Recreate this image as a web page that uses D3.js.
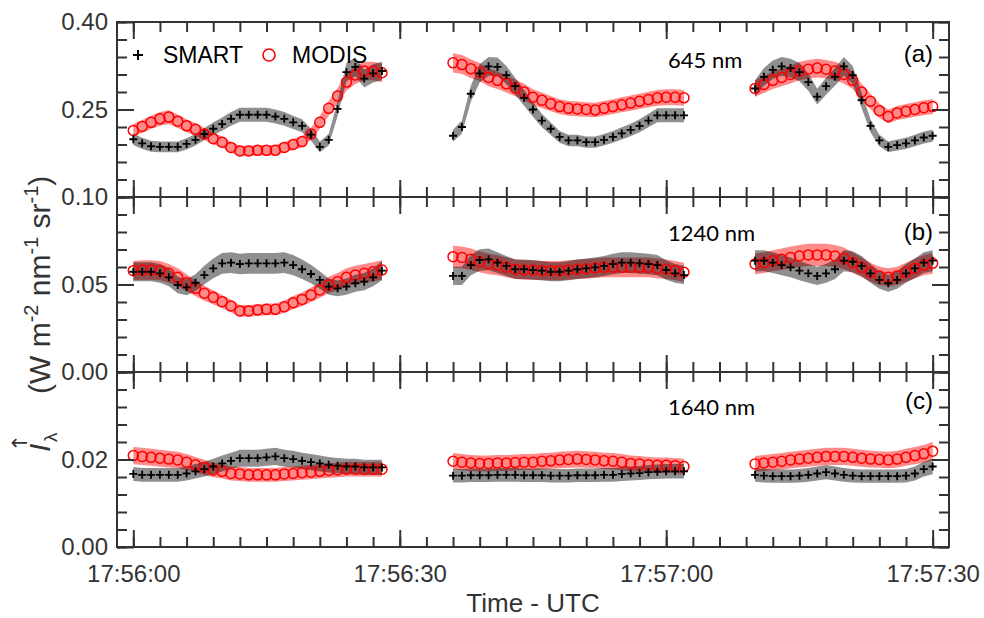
<!DOCTYPE html>
<html>
<head>
<meta charset="utf-8">
<script src="https://cdn.jsdelivr.net/npm/d3@7"></script>
<style>
  body { margin: 0; background: #fff; }
</style>
</head>
<body>
<div id="chart"></div>
<script>
// start of each flight segment, seconds after 17:56:00 UTC (1 Hz samples)
const segStart = [0, 36, 70]

const smart645 = [
  [0.199,0.192,0.187,0.186,0.186,0.186,0.191,0.198,0.208,0.217,0.225,0.234,0.241,0.241,0.241,0.241,0.238,0.234,0.228,0.222,0.207,0.186,0.198,0.251,0.314,0.323,0.303,0.312,0.316],
  [0.205,0.220,0.277,0.312,0.324,0.323,0.309,0.290,0.270,0.250,0.231,0.217,0.203,0.197,0.197,0.194,0.194,0.198,0.203,0.209,0.215,0.222,0.231,0.240,0.240,0.240,0.240],
  [0.286,0.306,0.318,0.324,0.321,0.314,0.297,0.272,0.290,0.306,0.324,0.309,0.266,0.222,0.197,0.186,0.189,0.192,0.197,0.202,0.205]
]
const modis645 = [
  [0.214,0.221,0.228,0.234,0.237,0.230,0.222,0.216,0.208,0.200,0.194,0.185,0.179,0.179,0.180,0.180,0.180,0.185,0.190,0.195,0.208,0.228,0.252,0.273,0.297,0.309,0.316,0.316,0.313],
  [0.330,0.327,0.320,0.314,0.305,0.300,0.294,0.287,0.280,0.271,0.266,0.260,0.255,0.252,0.251,0.250,0.249,0.252,0.255,0.258,0.261,0.264,0.267,0.270,0.271,0.271,0.270],
  [0.286,0.293,0.300,0.305,0.310,0.316,0.319,0.321,0.319,0.316,0.310,0.300,0.280,0.264,0.248,0.238,0.244,0.247,0.250,0.253,0.255]
]
const smart1240 = [
  [0.0573,0.0573,0.0573,0.0564,0.0541,0.0497,0.0484,0.0510,0.0554,0.0592,0.0621,0.0625,0.0617,0.0621,0.0621,0.0621,0.0621,0.0625,0.0611,0.0587,0.0560,0.0526,0.0488,0.0478,0.0488,0.0507,0.0516,0.0541,0.0579],
  [0.0549,0.0549,0.0611,0.0640,0.0644,0.0625,0.0606,0.0587,0.0587,0.0583,0.0579,0.0573,0.0573,0.0579,0.0587,0.0592,0.0598,0.0606,0.0617,0.0625,0.0625,0.0621,0.0617,0.0611,0.0583,0.0564,0.0554],
  [0.0636,0.0636,0.0625,0.0611,0.0598,0.0579,0.0564,0.0549,0.0564,0.0587,0.0636,0.0630,0.0606,0.0564,0.0526,0.0507,0.0526,0.0564,0.0592,0.0625,0.0636]
]
const modis1240 = [
  [0.0579,0.0583,0.0583,0.0579,0.0564,0.0541,0.0510,0.0478,0.0450,0.0427,0.0402,0.0377,0.0349,0.0349,0.0354,0.0358,0.0358,0.0373,0.0396,0.0415,0.0440,0.0469,0.0497,0.0516,0.0541,0.0554,0.0564,0.0573,0.0583],
  [0.0659,0.0655,0.0644,0.0630,0.0617,0.0611,0.0598,0.0587,0.0583,0.0583,0.0579,0.0579,0.0579,0.0583,0.0587,0.0590,0.0594,0.0598,0.0598,0.0598,0.0598,0.0598,0.0598,0.0592,0.0587,0.0579,0.0570],
  [0.0617,0.0625,0.0636,0.0644,0.0655,0.0663,0.0669,0.0669,0.0669,0.0663,0.0650,0.0625,0.0598,0.0570,0.0549,0.0541,0.0549,0.0570,0.0592,0.0611,0.0621]
]
const smart1640 = [
  [0.0167,0.0165,0.0165,0.0165,0.0165,0.0165,0.0168,0.0173,0.0178,0.0184,0.0191,0.0197,0.0203,0.0203,0.0203,0.0205,0.0207,0.0203,0.0201,0.0197,0.0194,0.0191,0.0188,0.0186,0.0184,0.0184,0.0182,0.0182,0.0182],
  [0.0163,0.0163,0.0164,0.0164,0.0164,0.0165,0.0165,0.0165,0.0164,0.0164,0.0164,0.0163,0.0163,0.0163,0.0164,0.0164,0.0164,0.0165,0.0165,0.0167,0.0168,0.0169,0.0171,0.0172,0.0173,0.0173,0.0173],
  [0.0165,0.0163,0.0162,0.0162,0.0162,0.0163,0.0165,0.0168,0.0171,0.0168,0.0165,0.0163,0.0162,0.0162,0.0162,0.0162,0.0162,0.0163,0.0168,0.0178,0.0184]
]
const modis1640 = [
  [0.0209,0.0207,0.0205,0.0203,0.0201,0.0199,0.0194,0.0188,0.0182,0.0176,0.0173,0.0168,0.0167,0.0165,0.0165,0.0165,0.0165,0.0167,0.0168,0.0170,0.0171,0.0173,0.0175,0.0176,0.0178,0.0178,0.0178,0.0178,0.0178],
  [0.0196,0.0194,0.0192,0.0191,0.0191,0.0192,0.0192,0.0193,0.0194,0.0194,0.0196,0.0197,0.0199,0.0200,0.0201,0.0200,0.0199,0.0197,0.0196,0.0194,0.0191,0.0190,0.0188,0.0187,0.0187,0.0186,0.0184],
  [0.0190,0.0192,0.0194,0.0196,0.0199,0.0201,0.0203,0.0205,0.0207,0.0207,0.0207,0.0205,0.0203,0.0201,0.0200,0.0199,0.0201,0.0205,0.0209,0.0213,0.0219]
]

// relative uncertainty of the shaded envelopes, per panel
const uncertainty = [0.05, 0.095, 0.095]

const wavelengths = ["645 nm", "1240 nm", "1640 nm"]
const panelTags = ["(a)", "(b)", "(c)"]
const yDomains = [[0.10, 0.40], [0.00, 0.10], [0.00, 0.04]]
const yMinorTicks = [
  [0.10,0.13,0.16,0.19,0.22,0.25,0.28,0.31,0.34,0.37,0.40],
  [0.00,0.01,0.02,0.03,0.04,0.05,0.06,0.07,0.08,0.09,0.10],
  [0.000,0.004,0.008,0.012,0.016,0.020,0.024,0.028,0.032,0.036,0.040]
]
const yMajorTicks = [[0.10, 0.25, 0.40], [0.00, 0.05, 0.10], [0.00, 0.02, 0.04]]
const yTickLabels = [["0.10", "0.25", "0.40"], ["0.00", "0.05"], ["0.00", "0.02"]]

const width = 984, height = 618
const plot = {left: 117, right: 949, top: 22, panelH: 175}
const minorLen = 10, majorLen = 17
const axisColor = "#333"
const sans = "'Liberation Sans', Arial, sans-serif"

const t0 = Date.UTC(2000, 0, 1, 17, 56, 0)
const toDate = s => new Date(t0 + s * 1000)

const x = d3.scaleUtc()
    .domain([toDate(-1.835), toDate(91.84)])
    .range([plot.left, plot.right])

const xMinor = d3.utcSecond.every(3).range(toDate(0), toDate(91))
const xMajor = d3.utcSecond.every(30).range(toDate(0), toDate(91))
const timeFmt = d3.utcFormat("%H:%M:%S")

const svg = d3.select("#chart").append("svg")
    .attr("width", width)
    .attr("height", height)
    .attr("font-family", sans)

const series = [
  {smart: smart645, modis: modis645},
  {smart: smart1240, modis: modis1240},
  {smart: smart1640, modis: modis1640}
]

function toPoints(segs) {
  return segs.map((vals, s) => vals.map((v, i) => ({t: toDate(segStart[s] + i), v: v})))
}

function styleAxis(g) {
  g.select(".domain").remove()
  g.selectAll(".tick line").attr("stroke", axisColor).attr("stroke-width", 2)
  g.selectAll(".tick text").attr("fill", axisColor).attr("font-size", 24)
    .attr("font-family", sans)
}

series.forEach((p, k) => {
  const y0 = plot.top + k * plot.panelH,
      y1 = y0 + plot.panelH
  const y = d3.scaleLinear().domain(yDomains[k]).range([y1, y0])
  const g = svg.append("g").attr("class", "panel")
  const unc = uncertainty[k]

  const band = d3.area()
      .x(d => x(d.t))
      .y0(d => y(d.v * (1 - unc)))
      .y1(d => y(d.v * (1 + unc)))

  const modisPts = toPoints(p.modis),
      smartPts = toPoints(p.smart)

  // envelopes: red under, grey over
  g.selectAll(".band-modis")
      .data(modisPts)
      .join("path")
      .attr("class", "band-modis")
      .attr("d", band)
      .attr("fill", "rgba(255,0,0,0.46)")
  g.selectAll(".band-smart")
      .data(smartPts)
      .join("path")
      .attr("class", "band-smart")
      .attr("d", band)
      .attr("fill", "rgba(0,0,0,0.44)")

  // MODIS circles
  g.selectAll(".modis")
      .data(modisPts.flat())
      .join("circle")
      .attr("class", "modis")
      .attr("cx", d => x(d.t))
      .attr("cy", d => y(d.v))
      .attr("r", 5)
      .attr("fill", "none")
      .attr("stroke", "#ff0000")
      .attr("stroke-width", 1.5)

  // SMART pluses
  g.selectAll(".smart")
      .data(smartPts.flat())
      .join("path")
      .attr("class", "smart")
      .attr("transform", d => `translate(${x(d.t)},${y(d.v)})`)
      .attr("d", "M-4,0H4M0,-4V4")
      .attr("stroke", "#000")
      .attr("stroke-width", 1.8)

  // x ticks, top and bottom of the panel, pointing inward
  g.append("g").attr("transform", `translate(0,${y0})`)
      .call(d3.axisTop(x).tickValues(xMinor).tickSize(-minorLen).tickSizeOuter(0).tickFormat(""))
      .call(styleAxis)
  g.append("g").attr("transform", `translate(0,${y0})`)
      .call(d3.axisTop(x).tickValues(xMajor).tickSize(-majorLen).tickSizeOuter(0).tickFormat(""))
      .call(styleAxis)
  g.append("g").attr("transform", `translate(0,${y1})`)
      .call(d3.axisBottom(x).tickValues(xMinor).tickSize(-minorLen).tickSizeOuter(0).tickFormat(""))
      .call(styleAxis)
  g.append("g").attr("transform", `translate(0,${y1})`)
      .call(d3.axisBottom(x).tickValues(xMajor).tickSize(-majorLen).tickSizeOuter(0)
          .tickPadding(18)
          .tickFormat(k === 2 ? timeFmt : ""))
      .call(styleAxis)

  // y ticks, left and right
  const labels = yTickLabels[k]
  g.append("g").attr("transform", `translate(${plot.left},0)`)
      .call(d3.axisLeft(y).tickValues(yMinorTicks[k]).tickSize(-minorLen).tickSizeOuter(0).tickFormat(""))
      .call(styleAxis)
  g.append("g").attr("transform", `translate(${plot.left},0)`)
      .call(d3.axisLeft(y).tickValues(yMajorTicks[k]).tickSize(-majorLen).tickSizeOuter(0)
          .tickPadding(9)
          .tickFormat(d => {
            const s = d3.format(".2f")(d)
            return labels.includes(s) ? s : ""
          }))
      .call(styleAxis)
  g.append("g").attr("transform", `translate(${plot.right},0)`)
      .call(d3.axisRight(y).tickValues(yMinorTicks[k]).tickSize(-minorLen).tickSizeOuter(0).tickFormat(""))
      .call(styleAxis)
  g.append("g").attr("transform", `translate(${plot.right},0)`)
      .call(d3.axisRight(y).tickValues(yMajorTicks[k]).tickSize(-majorLen).tickSizeOuter(0).tickFormat(""))
      .call(styleAxis)

  // wavelength and panel tag
  const labelBase = [68, 241, 415][k],
      tagBase = [62, 240, 409][k]
  g.append("text")
      .attr("x", 668).attr("y", labelBase)
      .attr("font-family", "Lato, 'Open Sans', sans-serif")
      .attr("font-size", 22)
      .attr("fill", "#000")
      .text(wavelengths[k])
  g.append("text")
      .attr("x", 933).attr("y", tagBase)
      .attr("text-anchor", "end")
      .attr("font-size", 24)
      .attr("fill", "#000")
      .text(panelTags[k])
})

// frame and panel dividers
svg.append("rect")
    .attr("x", plot.left).attr("y", plot.top)
    .attr("width", plot.right - plot.left)
    .attr("height", 3 * plot.panelH)
    .attr("fill", "none")
    .attr("stroke", axisColor)
    .attr("stroke-width", 2)
;[1, 2].forEach(i => {
  svg.append("line")
      .attr("x1", plot.left).attr("x2", plot.right)
      .attr("y1", plot.top + i * plot.panelH).attr("y2", plot.top + i * plot.panelH)
      .attr("stroke", axisColor)
      .attr("stroke-width", 2)
})

// legend
const legend = svg.append("g").attr("font-size", 23).attr("fill", "#000")
legend.append("path")
    .attr("transform", "translate(138,55)")
    .attr("d", "M-5,0H5M0,-5V5")
    .attr("stroke", "#000").attr("stroke-width", 2)
legend.append("text").attr("x", 163).attr("y", 63).text("SMART")
legend.append("circle")
    .attr("cx", 269).attr("cy", 55).attr("r", 6)
    .attr("fill", "none").attr("stroke", "#ff0000").attr("stroke-width", 1.6)
legend.append("text").attr("x", 292).attr("y", 63).text("MODIS")

// x axis title
svg.append("text")
    .attr("x", (plot.left + plot.right) / 2)
    .attr("y", 612)
    .attr("text-anchor", "middle")
    .attr("font-size", 26)
    .attr("fill", axisColor)
    .text("Time - UTC")

// y axis title, rotated
const yt = svg.append("g")
    .attr("transform", "translate(50,452) rotate(-90)")
    .attr("fill", axisColor)
yt.append("text").attr("x", 0).attr("y", 0)
    .attr("font-size", 30).attr("font-style", "italic").text("I")
yt.append("text").attr("x", 9).attr("y", -23)
    .attr("text-anchor", "middle")
    .attr("font-family", "'DejaVu Sans', sans-serif")
    .attr("font-size", 21).text("\u2191")
yt.append("text").attr("x", 10).attr("y", 7)
    .attr("font-size", 19).text("\u03bb")
const unit = yt.append("text").attr("x", 58).attr("y", 0).attr("font-size", 30)
unit.append("tspan").text("(W m")
unit.append("tspan").attr("dy", -12).attr("font-size", 20).text("-2")
unit.append("tspan").attr("dy", 12).text(" nm")
unit.append("tspan").attr("dy", -12).attr("font-size", 20).text("-1")
unit.append("tspan").attr("dy", 12).text(" sr")
unit.append("tspan").attr("dy", -12).attr("font-size", 20).text("-1")
unit.append("tspan").attr("dy", 12).text(")")
</script>
</body>
</html>
